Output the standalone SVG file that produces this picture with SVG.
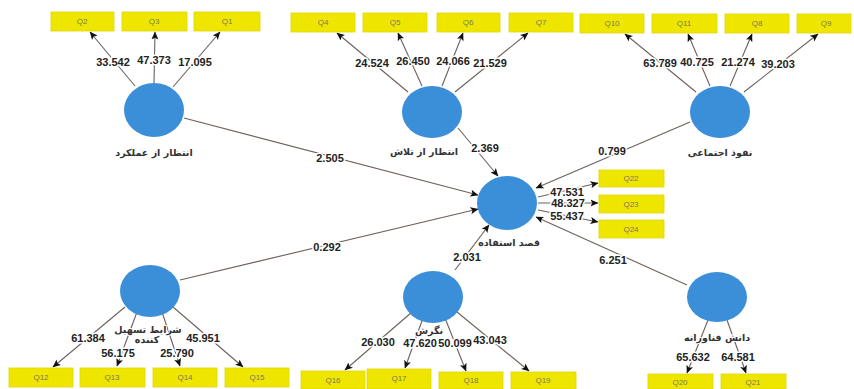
<svg xmlns="http://www.w3.org/2000/svg" width="854" height="389" viewBox="0 0 854 389">
<style>
.bg{fill:#ffffff}
.lv{fill:#3b8ed8}
.ind rect{fill:#efe600;stroke:#e0d400;stroke-width:0.8}
.ind text{font-family:"Liberation Sans",Arial,sans-serif;font-size:8px;fill:#7a7a5a;text-anchor:middle}
.ln{stroke:#6e605a;stroke-width:1.1;fill:none;marker-end:url(#ah)}
.wt{font-family:"Liberation Sans",Arial,sans-serif;font-size:11px;font-weight:bold;fill:#222;text-anchor:middle;stroke:#fff;stroke-width:3;paint-order:stroke;stroke-linejoin:round}
.nm{font-family:"DejaVu Sans","Noto Sans",sans-serif;font-size:9.5px;font-weight:bold;fill:#333;text-anchor:middle;stroke:#fff;stroke-width:2;paint-order:stroke}
</style>
<defs>
<marker id="ah" markerWidth="8" markerHeight="8" refX="7.5" refY="4" orient="auto" markerUnits="userSpaceOnUse">
<path d="M0,0.5 L8,4 L0,7.5 L1.8,4 z" fill="#111"/>
</marker>
</defs>
<rect class="bg" x="0" y="0" width="854" height="389"/>

<g id="connectors">
<line class="ln" x1="135" y1="86" x2="90" y2="32"/>
<line class="ln" x1="154" y1="83" x2="155" y2="32"/>
<line class="ln" x1="173" y1="87" x2="220" y2="32"/>
<line class="ln" x1="408" y1="92" x2="337" y2="33"/>
<line class="ln" x1="422" y1="86" x2="398" y2="33"/>
<line class="ln" x1="442" y1="86" x2="463" y2="33"/>
<line class="ln" x1="455" y1="92" x2="528" y2="33"/>
<line class="ln" x1="696" y1="92" x2="625" y2="34"/>
<line class="ln" x1="710" y1="86" x2="688" y2="34"/>
<line class="ln" x1="730" y1="86" x2="752" y2="34"/>
<line class="ln" x1="744" y1="92" x2="818" y2="34"/>
<line class="ln" x1="184" y1="118" x2="478" y2="195"/>
<line class="ln" x1="458" y1="128" x2="498" y2="176"/>
<line class="ln" x1="690" y1="122" x2="536" y2="188"/>
<line class="ln" x1="180" y1="280" x2="478" y2="209"/>
<line class="ln" x1="455" y1="270" x2="489" y2="225"/>
<line class="ln" x1="687" y1="285" x2="536" y2="217"/>
<line class="ln" x1="538" y1="197" x2="598" y2="183"/>
<line class="ln" x1="538" y1="203" x2="598" y2="203"/>
<line class="ln" x1="538" y1="210" x2="598" y2="222"/>
<line class="ln" x1="125" y1="307" x2="53" y2="367"/>
<line class="ln" x1="137" y1="312" x2="117" y2="366"/>
<line class="ln" x1="162" y1="312" x2="180" y2="366"/>
<line class="ln" x1="173" y1="307" x2="243" y2="367"/>
<line class="ln" x1="412" y1="312" x2="345" y2="370"/>
<line class="ln" x1="423" y1="318" x2="405" y2="368"/>
<line class="ln" x1="445" y1="318" x2="466" y2="371"/>
<line class="ln" x1="457" y1="312" x2="529" y2="371"/>
<line class="ln" x1="708" y1="320" x2="687" y2="373"/>
<line class="ln" x1="727" y1="320" x2="746" y2="373"/>

<text class="wt" x="113" y="66">33.542</text>
<text class="wt" x="154" y="64">47.373</text>
<text class="wt" x="195" y="66">17.095</text>
<text class="wt" x="372" y="67">24.524</text>
<text class="wt" x="413" y="65">26.450</text>
<text class="wt" x="453" y="65">24.066</text>
<text class="wt" x="490" y="67">21.529</text>
<text class="wt" x="660" y="67">63.789</text>
<text class="wt" x="697" y="66">40.725</text>
<text class="wt" x="738" y="66">21.274</text>
<text class="wt" x="778" y="68">39.203</text>
<text class="wt" x="330" y="162">2.505</text>
<text class="wt" x="485" y="152">2.369</text>
<text class="wt" x="612" y="155">0.799</text>
<text class="wt" x="327" y="251">0.292</text>
<text class="wt" x="467" y="261">2.031</text>
<text class="wt" x="613" y="264">6.251</text>
<text class="wt" x="567" y="196">47.531</text>
<text class="wt" x="568" y="207">48.327</text>
<text class="wt" x="567" y="220">55.437</text>
<text class="wt" x="88" y="342">61.384</text>
<text class="wt" x="118" y="357">56.175</text>
<text class="wt" x="177" y="357">25.790</text>
<text class="wt" x="203" y="342">45.951</text>
<text class="wt" x="378" y="346">26.030</text>
<text class="wt" x="420" y="347">47.620</text>
<text class="wt" x="455" y="347">50.099</text>
<text class="wt" x="490" y="344">43.043</text>
<text class="wt" x="693" y="361">65.632</text>
<text class="wt" x="738" y="361">64.581</text>
</g>

<g id="lv-performance"><ellipse class="lv" cx="154" cy="110" rx="30" ry="27"/><text class="nm" x="154" y="156">انتظار از عملکرد</text></g>
<g id="lv-effort"><ellipse class="lv" cx="432" cy="112" rx="30" ry="26"/><text class="nm" x="424" y="155">انتظار از تلاش</text></g>
<g id="lv-social"><ellipse class="lv" cx="720" cy="112" rx="30" ry="26"/><text class="nm" x="720" y="156">نفوذ اجتماعی</text></g>
<g id="lv-intention"><ellipse class="lv" cx="507" cy="203" rx="30" ry="27"/><text class="nm" x="509" y="246">قصد استفاده</text></g>
<g id="lv-facilitating"><ellipse class="lv" cx="150" cy="291" rx="30" ry="26"/><text class="nm" x="148" y="333">شرایط تسهیل</text><text class="nm" x="147" y="343">کننده</text></g>
<g id="lv-attitude"><ellipse class="lv" cx="433" cy="297" rx="30" ry="26"/><text class="nm" x="429" y="334">نگرش</text></g>
<g id="lv-knowledge"><ellipse class="lv" cx="717" cy="297" rx="30" ry="25"/><text class="nm" x="717" y="341">دانش فناورانه</text></g>

<g id="Q2" class="ind"><rect x="51" y="12" width="63" height="19"/><text x="82" y="24">Q2</text></g>
<g id="Q3" class="ind"><rect x="122" y="12" width="65" height="19"/><text x="154" y="24">Q3</text></g>
<g id="Q1" class="ind"><rect x="194" y="12" width="66" height="19"/><text x="227" y="24">Q1</text></g>
<g id="Q4" class="ind"><rect x="291" y="13" width="64" height="19"/><text x="323" y="25">Q4</text></g>
<g id="Q5" class="ind"><rect x="363" y="13" width="64" height="19"/><text x="395" y="25">Q5</text></g>
<g id="Q6" class="ind"><rect x="437" y="13" width="63" height="19"/><text x="468" y="25">Q6</text></g>
<g id="Q7" class="ind"><rect x="509" y="13" width="64" height="19"/><text x="541" y="25">Q7</text></g>
<g id="Q10" class="ind"><rect x="580" y="14" width="64" height="19"/><text x="612" y="26">Q10</text></g>
<g id="Q11" class="ind"><rect x="652" y="14" width="65" height="19"/><text x="684" y="26">Q11</text></g>
<g id="Q8" class="ind"><rect x="725" y="14" width="64" height="19"/><text x="757" y="26">Q8</text></g>
<g id="Q9" class="ind"><rect x="797" y="14" width="54" height="19"/><text x="826" y="26">Q9</text></g>
<g id="Q22" class="ind"><rect x="599" y="170" width="65" height="17"/><text x="631" y="181">Q22</text></g>
<g id="Q23" class="ind"><rect x="599" y="195" width="65" height="18"/><text x="631" y="207">Q23</text></g>
<g id="Q24" class="ind"><rect x="599" y="220" width="65" height="18"/><text x="631" y="232">Q24</text></g>
<g id="Q12" class="ind"><rect x="9" y="368" width="64" height="19"/><text x="41" y="380">Q12</text></g>
<g id="Q13" class="ind"><rect x="80" y="368" width="65" height="19"/><text x="112" y="380">Q13</text></g>
<g id="Q14" class="ind"><rect x="153" y="368" width="64" height="19"/><text x="185" y="380">Q14</text></g>
<g id="Q15" class="ind"><rect x="225" y="368" width="64" height="19"/><text x="257" y="380">Q15</text></g>
<g id="Q16" class="ind"><rect x="301" y="371" width="64" height="18"/><text x="333" y="383">Q16</text></g>
<g id="Q17" class="ind"><rect x="367" y="369" width="64" height="20"/><text x="399" y="381">Q17</text></g>
<g id="Q18" class="ind"><rect x="439" y="372" width="64" height="17"/><text x="471" y="383">Q18</text></g>
<g id="Q19" class="ind"><rect x="511" y="372" width="65" height="17"/><text x="543" y="383">Q19</text></g>
<g id="Q20" class="ind"><rect x="648" y="374" width="65" height="15"/><text x="680" y="385">Q20</text></g>
<g id="Q21" class="ind"><rect x="721" y="374" width="65" height="15"/><text x="753" y="385">Q21</text></g>
</svg>
